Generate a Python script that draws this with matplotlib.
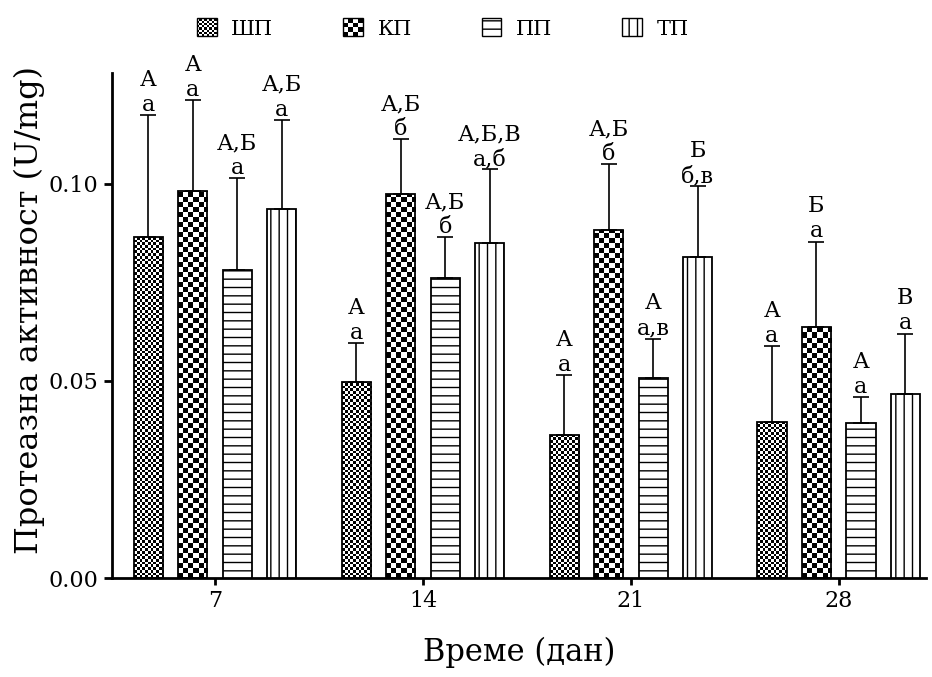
import numpy as np
import matplotlib
matplotlib.use('Agg')
import matplotlib.pyplot as plt
from matplotlib.patches import Rectangle, Patch
from matplotlib.legend_handler import HandlerBase

plt.rcParams['font.family'] = 'DejaVu Serif'
plt.rcParams['hatch.linewidth'] = 1.0

days = ['7', '14', '21', '28']
groups = ['ШП', 'КП', 'ПП', 'ТП']

# mean and SD (upper error only) per group
shp_mean = [0.0864, 0.0497, 0.0364, 0.0397]
shp_sd = [0.0309, 0.0098, 0.0150, 0.0191]
kp_mean = [0.0981, 0.0973, 0.0881, 0.0637]
kp_sd = [0.0231, 0.0139, 0.0168, 0.0216]
pp_mean = [0.0782, 0.0760, 0.0508, 0.0393]
pp_sd = [0.0231, 0.0104, 0.0099, 0.0065]
tp_mean = [0.0935, 0.0849, 0.0813, 0.0467]
tp_sd = [0.0226, 0.0187, 0.0180, 0.0153]

# significance letters
shp_upper = ['А', 'А', 'А', 'А']
shp_lower = ['а', 'а', 'а', 'а']
kp_upper = ['А', 'А,Б', 'А,Б', 'Б']
kp_lower = ['а', 'б', 'б', 'а']
pp_upper = ['А,Б', 'А,Б', 'А', 'А']
pp_lower = ['а', 'б', 'а,в', 'а']
tp_upper = ['А,Б', 'А,Б,В', 'Б', 'В']
tp_lower = ['а', 'а,б', 'б,в', 'а']

series = [
    (shp_mean, shp_sd, shp_upper, shp_lower, 'checker', 2.7),
    (kp_mean, kp_sd, kp_upper, kp_lower, 'checker', 5.0),
    (pp_mean, pp_sd, pp_upper, pp_lower, '--', None),
    (tp_mean, tp_sd, tp_upper, tp_lower, '||', None),
]

fig = plt.figure(figsize=(9.32, 6.77), dpi=100)
ax = fig.add_axes([0.1199, 0.1458, 0.8737, 0.7464])
ax.set_xlim(-0.497, 3.42)
ax.set_ylim(0, 0.128)

x = np.arange(len(days))
step = 0.214
width = 0.14

checker_bars = []
for k, (mean, sd, up, low, pat, cell) in enumerate(series):
    pos = x + (k - 1.5) * step
    hatch = None if pat == 'checker' else pat
    bars = ax.bar(pos, mean, width, yerr=[np.zeros(len(sd)), sd],
                  facecolor='none' if pat == 'checker' else 'white',
                  edgecolor='black', linewidth=1.3, hatch=hatch, zorder=3,
                  error_kw=dict(ecolor='black', elinewidth=1.2, capsize=6,
                                capthick=1.2, zorder=4))
    if pat == 'checker':
        checker_bars.append((bars, cell))
    for i in range(len(days)):
        top = mean[i] + sd[i]
        ax.annotate(low[i], (pos[i], top), xytext=(0, 3), textcoords='offset points',
                    ha='center', va='baseline', fontsize=16, annotation_clip=False)
        ax.annotate(up[i], (pos[i], top), xytext=(0, 21), textcoords='offset points',
                    ha='center', va='baseline', fontsize=16, annotation_clip=False)

# checkerboard fills clipped to each bar
fig.canvas.draw()
for bars, cell in checker_bars:
    for rect in bars:
        x0, w, h = rect.get_x(), rect.get_width(), rect.get_height()
        p0 = ax.transData.transform((x0, 0))
        p1 = ax.transData.transform((x0 + w, h))
        nx = int(np.ceil((p1[0] - p0[0]) / cell))
        ny = int(np.ceil((p1[1] - p0[1]) / cell))
        cw = w / ((p1[0] - p0[0]) / cell)
        ch = h / ((p1[1] - p0[1]) / cell)
        board = np.add.outer(np.arange(ny), np.arange(nx)) % 2
        im = ax.imshow(board, cmap='gray', extent=[x0, x0 + nx * cw, 0, ny * ch],
                       origin='lower', interpolation='nearest', aspect='auto', zorder=2)
        im.set_clip_path(rect)

ax.set_xlim(-0.497, 3.42)
ax.set_ylim(0, 0.128)

ax.set_xticks(x)
ax.set_xticklabels(days)
ax.set_yticks([0, 0.05, 0.10])
ax.set_yticklabels(['0.00', '0.05', '0.10'])
ax.tick_params(axis='both', width=2, length=6, labelsize=16)
ax.tick_params(axis='x', length=5)
for s in ['top', 'right']:
    ax.spines[s].set_visible(False)
for s in ['left', 'bottom']:
    ax.spines[s].set_linewidth(2)

ax.set_xlabel('Време (дан)', fontsize=22, labelpad=18)
ax.set_ylabel('Протеазна активност (U/mg)', fontsize=23)
ax.yaxis.set_label_coords(-0.082, 0.53)


class CheckerHandler(HandlerBase):
    def __init__(self, n):
        super().__init__()
        self.n = n

    def create_artists(self, legend, orig_handle, xdescent, ydescent, width, height,
                       fontsize, trans):
        arts = [Rectangle((-xdescent, -ydescent), width, height, facecolor='white',
                          edgecolor='black', linewidth=1.0, transform=trans)]
        cw, ch = width / self.n, height / self.n
        for r in range(self.n):
            for c in range(self.n):
                if (r + c) % 2 == 0:
                    arts.append(Rectangle((-xdescent + c * cw, -ydescent + r * ch), cw, ch,
                                          facecolor='black', edgecolor='none', transform=trans))
        return arts


h_shp = Patch(facecolor='white', edgecolor='black')
h_kp = Patch(facecolor='white', edgecolor='black')
h_pp = Patch(facecolor='white', edgecolor='black', hatch='--')
h_tp = Patch(facecolor='white', edgecolor='black', hatch='||')
fig.legend([h_shp, h_kp, h_pp, h_tp], groups, loc='center', ncol=4,
           bbox_to_anchor=(0.475, 0.958), frameon=False, fontsize=15,
           handlelength=0.95, handleheight=0.95, columnspacing=3.35, handletextpad=0.7,
           handler_map={h_shp: CheckerHandler(8), h_kp: CheckerHandler(4)})

fig.savefig('out.png', dpi=100)
